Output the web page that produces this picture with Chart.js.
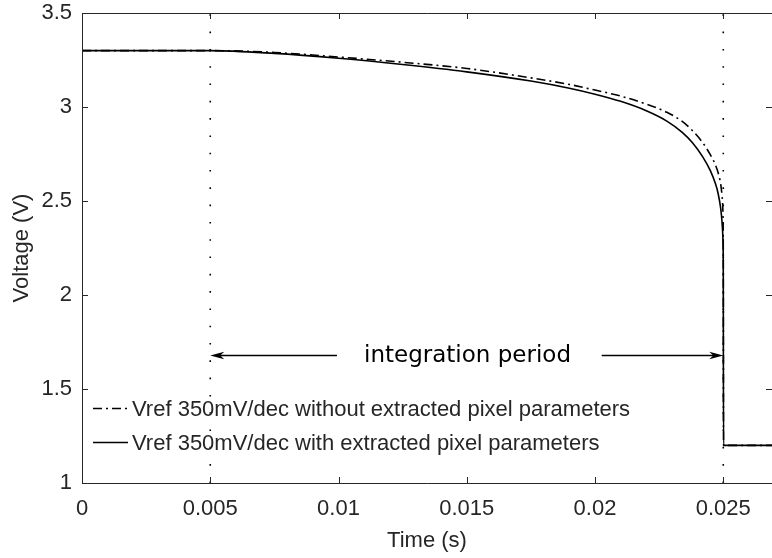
<!DOCTYPE html>
<html>
<head>
<meta charset="utf-8">
<script src="https://cdn.jsdelivr.net/npm/chart.js@4/dist/chart.umd.min.js"></script>
<style>
  html, body { margin: 0; padding: 0; background: #fff; }
  #wrap { width: 772px; height: 558px; }
</style>
</head>
<body>
<div id="wrap"><canvas id="c"></canvas></div>
<script>
// ── data ─────────────────────────────────────────────────────────────────────
const xTicks = [0, 0.005, 0.01, 0.015, 0.02, 0.025];
const yTicks = [1, 1.5, 2, 2.5, 3, 3.5];

const seriesLabels = [
    'Vref 350mV/dec without extracted pixel parameters',
    'Vref 350mV/dec with extracted pixel parameters',
];

// without extracted pixel parameters (dash-dot)
const tWithout = [0, 0.005, 0.0075, 0.01, 0.0125, 0.015, 0.0175, 0.019, 0.02, 0.021, 0.022, 0.0228, 0.0234, 0.0238, 0.0242, 0.0245, 0.0247, 0.0248, 0.0249, 0.02495, 0.02499, 0.025, 0.02501, 0.0269];
const vWithout = [3.3, 3.3, 3.29, 3.266, 3.238, 3.205, 3.155, 3.12, 3.09, 3.058, 3.015, 2.972, 2.923, 2.874, 2.81, 2.745, 2.69, 2.65, 2.59, 2.53, 2.42, 2.25, 1.2, 1.2];

// with extracted pixel parameters (solid)
const tWith = [0, 0.005, 0.0075, 0.01, 0.0125, 0.015, 0.0175, 0.019, 0.02, 0.021, 0.022, 0.0228, 0.0234, 0.0238, 0.0242, 0.0245, 0.0247, 0.0248, 0.0249, 0.02495, 0.02499, 0.025, 0.02501, 0.0269];
const vWith = [3.3, 3.3, 3.285, 3.259, 3.226, 3.187, 3.138, 3.1, 3.068, 3.03, 2.98, 2.925, 2.865, 2.81, 2.735, 2.66, 2.59, 2.54, 2.46, 2.39, 2.28, 2.15, 1.2, 1.2];

// integration window markers and annotation
const markerTimes = [0.005, 0.025];
const annotText = 'integration period';
const annotY = 1.68;
const arrowLeft = [0.00994, 0.005];
const arrowRight = [0.02026, 0.025];
const annotCenter = 0.01503;

const X_MIN = 0, X_MAX = 0.0269, Y_MIN = 1, Y_MAX = 3.5;

// ── helpers ──────────────────────────────────────────────────────────────────
const FONT = "'Liberation Sans', Arial, Helvetica, sans-serif";
const FS = 22;
const INK = '#262626';
const dashDot = [9, 4, 2, 4];

const pts = (xs, ys) => xs.map((x, i) => ({ x, y: ys[i] }));

const markerSets = markerTimes.map(t => ({
    label: '', data: [{ x: t, y: Y_MIN }, { x: t, y: Y_MAX }],
    borderColor: '#000', borderWidth: 1.6, borderDash: [1.6, 15.7],
    pointRadius: 0, showLine: true, isMarker: true,
}));

// inward ticks + box, MATLAB style (right edge is cut off in the picture)
const frame = {
    id: 'frame',
    afterDraw(chart) {
        const { ctx, chartArea: a, scales: { x, y } } = chart;
        ctx.save();
        ctx.strokeStyle = INK;
        ctx.lineWidth = 1;
        ctx.beginPath();
        ctx.moveTo(a.right + 1, a.top + 0.5); ctx.lineTo(a.left + 0.5, a.top + 0.5);
        ctx.lineTo(a.left + 0.5, a.bottom + 0.5); ctx.lineTo(a.right + 1, a.bottom + 0.5);
        ctx.stroke();
        const L = 6;
        ctx.beginPath();
        xTicks.forEach(v => {
            const px = Math.round(x.getPixelForValue(v)) + 0.5;
            ctx.moveTo(px, a.bottom); ctx.lineTo(px, a.bottom - L);
            ctx.moveTo(px, a.top); ctx.lineTo(px, a.top + L);
        });
        yTicks.forEach(v => {
            const py = Math.round(y.getPixelForValue(v)) + 0.5;
            ctx.moveTo(a.left, py); ctx.lineTo(a.left + L, py);
            ctx.moveTo(a.right, py); ctx.lineTo(a.right - L, py);
        });
        ctx.stroke();
        ctx.restore();
    }
};

function arrow(ctx, x0, x1, y) {
    const dir = Math.sign(x1 - x0);
    ctx.beginPath();
    ctx.moveTo(x0, y); ctx.lineTo(x1 - dir * 8, y);
    ctx.stroke();
    ctx.beginPath();
    ctx.moveTo(x1, y);
    ctx.lineTo(x1 - dir * 14, y - 3.8);
    ctx.lineTo(x1 - dir * 10, y);
    ctx.lineTo(x1 - dir * 14, y + 3.8);
    ctx.closePath();
    ctx.fill();
}

// annotation and the in-plot legend
const extras = {
    id: 'extras',
    afterDatasetsDraw(chart) {
        const { ctx, scales: { x, y } } = chart;
        ctx.save();
        ctx.strokeStyle = '#000';
        ctx.fillStyle = '#000';
        ctx.lineWidth = 1.6;
        const ay = Math.round(y.getPixelForValue(annotY)) + 0.5;
        arrow(ctx, x.getPixelForValue(arrowLeft[0]), x.getPixelForValue(arrowLeft[1]), ay);
        arrow(ctx, x.getPixelForValue(arrowRight[0]), x.getPixelForValue(arrowRight[1]), ay);
        ctx.font = "23px 'DejaVu Sans', sans-serif";
        ctx.textAlign = 'center';
        ctx.textBaseline = 'middle';
        ctx.fillText(annotText, x.getPixelForValue(annotCenter), ay + 1);

        // legend
        const rows = [410, 444];
        chart.data.datasets.filter(d => !d.isMarker).forEach((ds, i) => {
            const yy = rows[i] - 1.5;
            ctx.beginPath();
            ctx.strokeStyle = '#000';
            ctx.lineWidth = ds.borderWidth;
            ctx.setLineDash(ds.borderDash || []);
            ctx.moveTo(93, yy); ctx.lineTo(128, yy);
            ctx.stroke();
            ctx.setLineDash([]);
            ctx.fillStyle = INK;
            ctx.font = FS + 'px ' + FONT;
            ctx.textAlign = 'left';
            ctx.fillText(ds.label, 132, rows[i]);
        });
        ctx.restore();
    }
};

new Chart(document.getElementById('c'), {
    type: 'scatter',
    data: {
        datasets: [
            {
                label: seriesLabels[0], data: pts(tWithout, vWithout),
                borderColor: '#000', borderWidth: 1.6, borderDash: dashDot,
                showLine: true, pointRadius: 0, cubicInterpolationMode: 'monotone',
            },
            {
                label: seriesLabels[1], data: pts(tWith, vWith),
                borderColor: '#000', borderWidth: 1.6,
                showLine: true, pointRadius: 0, cubicInterpolationMode: 'monotone',
            },
            ...markerSets,
        ]
    },
    options: {
        responsive: true, maintainAspectRatio: false, animation: false,
        layout: { padding: { top: 13, right: 0, left: 0, bottom: 0 } },
        plugins: { legend: { display: false }, tooltip: { enabled: false } },
        scales: {
            x: {
                type: 'linear', min: X_MIN, max: X_MAX,
                afterBuildTicks: s => { s.ticks = xTicks.map(value => ({ value })); },
                afterFit: s => { s.height = 75; s.paddingLeft = 0; s.paddingRight = 0; },
                grid: { display: false, drawTicks: false },
                border: { display: false },
                ticks: { color: INK, font: { family: FONT, size: FS }, padding: 13, maxRotation: 0, callback: v => String(v) },
                title: { display: true, text: 'Time (s)', color: INK, font: { family: FONT, size: FS }, padding: { bottom: 4 } },
            },
            y: {
                type: 'linear', min: Y_MIN, max: Y_MAX,
                afterBuildTicks: s => { s.ticks = yTicks.map(value => ({ value })); },
                afterFit: s => { s.width = 82; s.paddingTop = 0; s.paddingBottom = 0; },
                grid: { display: false, drawTicks: false },
                border: { display: false },
                ticks: { color: INK, font: { family: FONT, size: FS }, padding: 10, callback: v => String(v) },
                title: { display: true, text: 'Voltage (V)', color: INK, font: { family: FONT, size: FS }, padding: { top: 9 } },
            }
        }
    },
    plugins: [frame, extras]
});
</script>
</body>
</html>
